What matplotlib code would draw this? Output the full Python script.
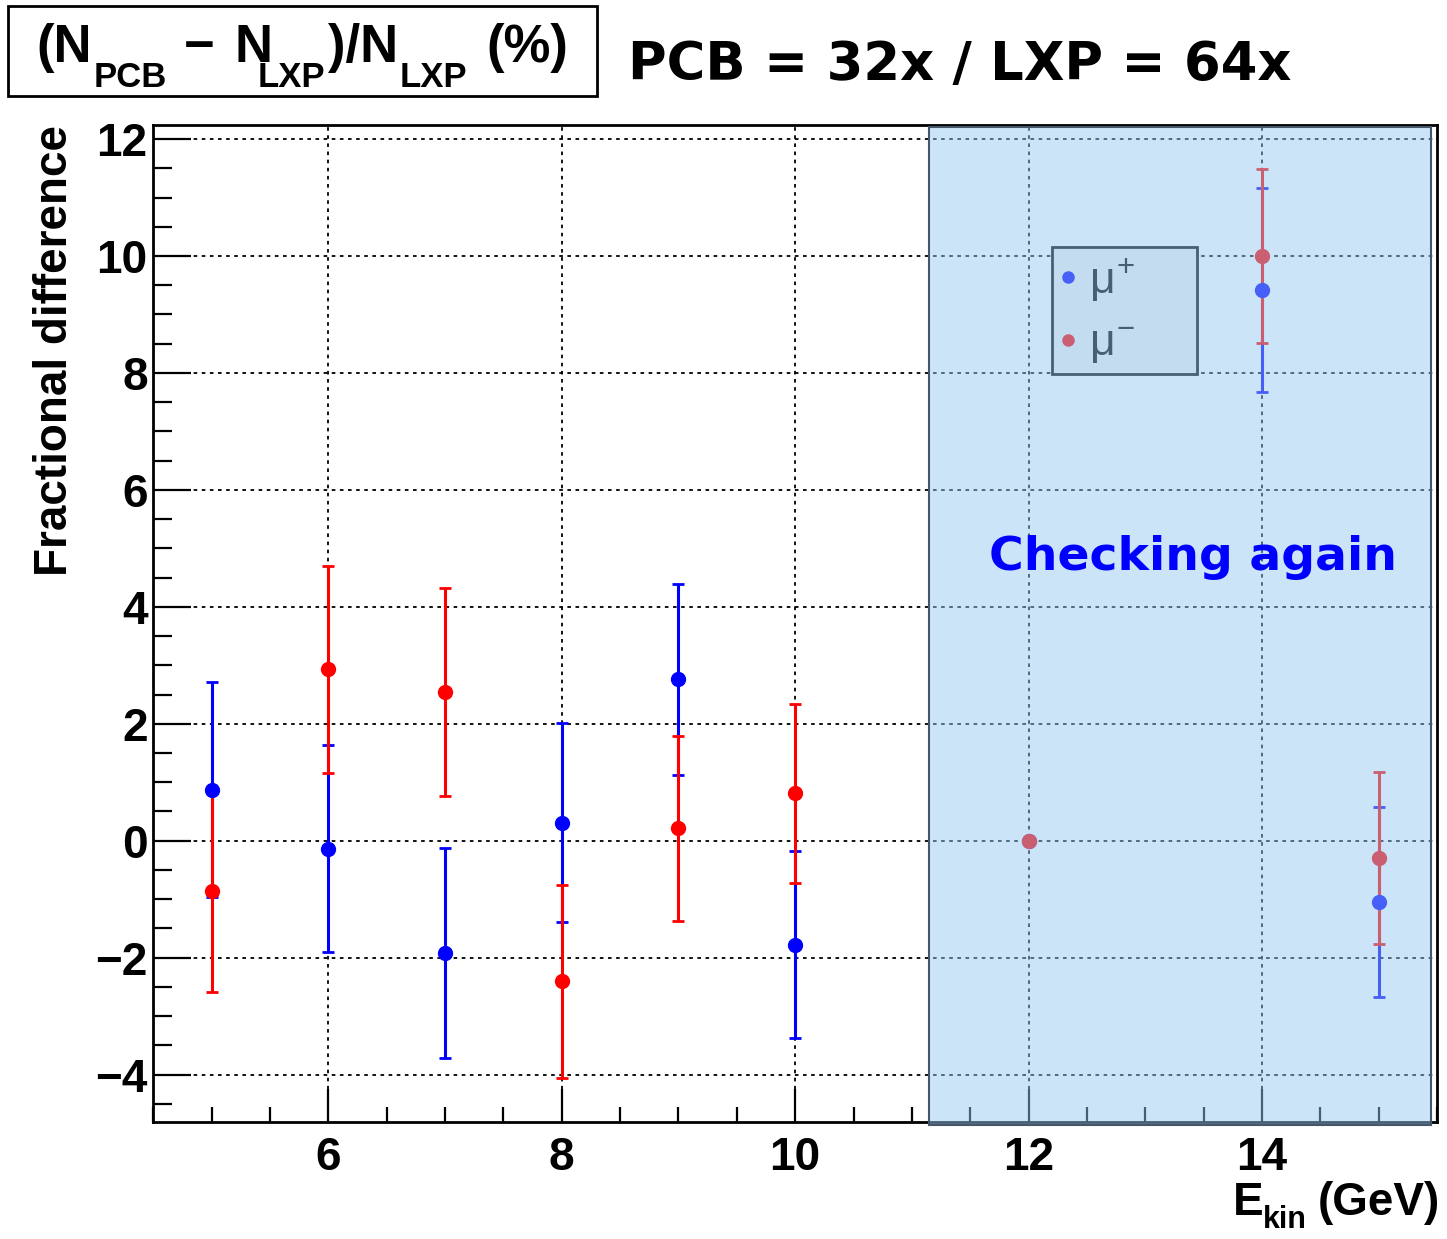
import matplotlib
matplotlib.use("Agg")
import matplotlib.pyplot as plt
from matplotlib.patches import Rectangle
from matplotlib.lines import Line2D
from matplotlib.transforms import blended_transform_factory
from matplotlib.ticker import MultipleLocator

plt.rcParams['font.family'] = ['Liberation Sans', 'DejaVu Sans']
plt.rcParams['mathtext.fontset'] = 'custom'
plt.rcParams['mathtext.rm'] = 'Liberation Sans'
plt.rcParams['mathtext.it'] = 'Liberation Sans'
plt.rcParams['mathtext.bf'] = 'Liberation Sans:bold'

# ---------------- data ----------------
energy = [5, 6, 7, 8, 9, 10, 12, 14, 15]
mu_plus = [0.87, -0.14, -1.92, 0.31, 2.76, -1.78, 0.0, 9.42, -1.05]
mu_plus_err = [1.84, 1.77, 1.80, 1.70, 1.63, 1.60, 0.0, 1.75, 1.62]
mu_minus = [-0.86, 2.93, 2.54, -2.40, 0.21, 0.81, 0.0, 10.00, -0.29]
mu_minus_err = [1.73, 1.77, 1.78, 1.65, 1.58, 1.53, 0.0, 1.49, 1.47]
labels = [r'$\mu^{+}$', r'$\mu^{-}$']
x_major_ticks = [6, 8, 10, 12, 14]
y_major_ticks = [-4, -2, 0, 2, 4, 6, 8, 10, 12]

W, H = 1447, 1239
fig = plt.figure(figsize=(W / 100, H / 100), dpi=100)
ax = fig.add_axes([153.3 / W, 1 - 1122 / H, (1437 - 153.3) / W, (1122 - 125) / H])

ax.set_xlim(4.5, 15.5)
ax.set_ylim(-4.81, 12.24)

eb_kw = dict(fmt='o', ms=10, elinewidth=2.2, capsize=4, capthick=2, zorder=3)
ax.errorbar(energy, mu_plus, yerr=mu_plus_err, color='#0000ff', **eb_kw)
ax.errorbar(energy, mu_minus, yerr=mu_minus_err, color='#ff0000', **eb_kw)

ax.set_xticks(x_major_ticks)
ax.set_yticks(y_major_ticks)
ax.xaxis.set_minor_locator(MultipleLocator(0.5))
ax.yaxis.set_minor_locator(MultipleLocator(0.5))
ax.grid(True, which='major', color='black', linestyle=(0, (2, 2.5)), linewidth=1.3)
ax.tick_params(which='both', direction='in', top=False, right=False, width=1.6, color='black')
ax.tick_params(axis='x', which='major', length=24, pad=10, labelsize=33)
ax.tick_params(axis='x', which='minor', length=11)
ax.tick_params(axis='y', which='major', length=27, pad=4, labelsize=33)
ax.tick_params(axis='y', which='minor', length=14)
for lab in ax.get_xticklabels() + ax.get_yticklabels():
    lab.set_fontweight('bold')
for sp in ax.spines.values():
    sp.set_linewidth(2)

# legend (box spans x 12.2..13.44, top at y=10.15)
handles = [Line2D([], [], marker='o', ls='none', color='#0000ff', ms=8),
           Line2D([], [], marker='o', ls='none', color='#ff0000', ms=8)]
leg = ax.legend(handles, labels, loc='upper left', bbox_to_anchor=(12.2, 7.99, 1.24, 2.16),
                bbox_transform=ax.transData, mode='expand', frameon=True, fancybox=False,
                edgecolor='black', facecolor='#f0f0f0', framealpha=1, fontsize=32,
                handlelength=0.35, handletextpad=0.3, borderpad=0.19, labelspacing=0.47,
                borderaxespad=0)
leg.get_frame().set_linewidth(2)
leg.set_zorder(5)

# overlay shading
blend = blended_transform_factory(ax.transData, ax.transAxes)
ax.add_patch(Rectangle((11.149, -0.003), 15.448 - 11.149, 1.001, transform=blend,
                       facecolor=(148 / 255, 200 / 255, 240 / 255, 0.48),
                       edgecolor='#46566a', lw=1.5, zorder=6, clip_on=False))
ax.text(13.41, 4.63, 'Checking again', color='#0000ff', fontsize=34, fontweight='bold',
        family='DejaVu Sans', ha='center', va='baseline', zorder=10)

# axis titles
fig.text(55 / W, 1 - 125 / H, 'Fractional difference', rotation=90, ha='center', va='top',
         fontsize=33, fontweight='bold')
fig.text(1233 / W, 1 - 1215 / H, 'E', fontsize=33, fontweight='bold', ha='left', va='baseline')
fig.text(1263 / W, 1 - 1228 / H, 'kin', fontsize=22, fontweight='bold', ha='left', va='baseline')
fig.text(1440 / W, 1 - 1215 / H, '(GeV)', fontsize=33, fontweight='bold', ha='right', va='baseline')

# title box
fig.patches.append(Rectangle((8 / W, 1 - 96 / H), 589 / W, 90 / H, transform=fig.transFigure,
                             fill=False, lw=2, ec='black'))
pieces = [(36, '(N', 38, 62), (94, 'PCB', 25, 87), (184, '\u2212', 38, 62), (234, 'N', 38, 62),
          (258, 'LXP', 25, 87), (328, ')/N', 38, 62), (400, 'LXP', 25, 87), (486, '(%)', 38, 62)]
for px, txt, size, base in pieces:
    fig.text(px / W, 1 - base / H, txt, fontsize=size, fontweight='bold', ha='left', va='baseline')

fig.text(628 / W, 1 - 80 / H, 'PCB = 32x / LXP = 64x', family='DejaVu Sans', fontweight='bold',
         fontsize=38, ha='left', va='baseline')

fig.savefig('out.png', dpi=100)
